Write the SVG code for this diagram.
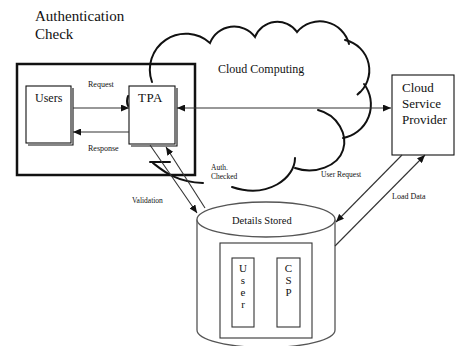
<svg xmlns="http://www.w3.org/2000/svg" width="455" height="346" viewBox="0 0 455 346" font-family="'Liberation Serif', 'DejaVu Serif', serif">
  <defs>
    <marker id="arrow" markerUnits="userSpaceOnUse" markerWidth="8" markerHeight="7" refX="8" refY="3.5" orient="auto-start-reverse">
      <path d="M0,0 L8,3.5 L0,7 z" fill="#111"/>
    </marker>
    <style>
      text { font-family: 'Liberation Serif', 'DejaVu Serif', serif; fill: #111; }
      .frame { fill: none; stroke: #111; stroke-width: 2.5; }
      .box { fill: #fff; stroke: #111; stroke-width: 1.1; }
      .shadow { fill: none; stroke: #111; stroke-width: 1.1; }
      .cloud { fill: none; stroke: #111; stroke-width: 2; stroke-linecap: round; }
      .store { fill: #fff; stroke: #555; stroke-width: 1.3; }
      .inner { fill: none; stroke: #333; stroke-width: 1.1; }
      .conn { fill: none; stroke: #333; stroke-width: 1.1; marker-end: url(#arrow); }
      .both { marker-start: url(#arrow); }
      .small { font-size: 7.5px; }
    </style>
  </defs>

  <!-- title of the authentication frame -->
  <g id="title">
    <text x="35" y="21" font-size="15">Authentication</text>
    <text x="35" y="39" font-size="15">Check</text>
  </g>

  <!-- authentication frame -->
  <g id="auth-frame">
    <rect class="frame" x="17" y="64" width="178" height="111"/>
  </g>

  <!-- cloud outline (scalloped arcs) -->
  <g id="cloud">
    <path class="cloud" d="M152,82 A36,36 0 0 1 210,43 A26,26 0 0 1 255,37 A24,24 0 0 1 297,32 A30,30 0 0 1 349,44"/>
    <path class="cloud" d="M345,40 A31,31 0 0 1 357,95 L360,92"/>
    <path class="cloud" d="M364,84 A34,34 0 0 1 343,138"/>
    <path class="cloud" d="M318,110 C338,115 348,135 343,150 C338,166 315,175 295,168"/>
    <path class="cloud" d="M295,158 C295,178 268,199 232,187"/>
    <path class="cloud" d="M150,162 L170,162"/>
    <path class="cloud" d="M153,163 C162,170 175,182 203,183"/>
    <path class="cloud" d="M128,96 Q126,101 128,106"/>
    <text x="218" y="73" font-size="12">Cloud Computing</text>
  </g>

  <!-- users node -->
  <g id="users">
    <polyline class="shadow" points="73,88 73,145 28,145"/>
    <rect class="box" x="26" y="86" width="45" height="57"/>
    <text x="35" y="102" font-size="12">Users</text>
  </g>

  <!-- third party auditor node -->
  <g id="tpa">
    <polyline class="shadow" points="177,88 177,146 131,146"/>
    <rect class="box" x="129" y="86" width="46" height="58"/>
    <text x="138" y="102" font-size="13" letter-spacing="0.5">TPA</text>
  </g>

  <!-- cloud service provider node -->
  <g id="csp">
    <rect class="box" x="392" y="75" width="62" height="80"/>
    <text x="402" y="92" font-size="13">Cloud</text>
    <text x="402" y="108" font-size="13">Service</text>
    <text x="402" y="124" font-size="13">Provider</text>
  </g>

  <!-- storage cylinder -->
  <g id="details-stored">
    <path class="store" d="M197,219.5 L197,330 A69,17.5 0 0 0 335,330 L335,219.5"/>
    <ellipse class="store" cx="266" cy="219.5" rx="69" ry="17.5"/>
    <text x="232" y="224" font-size="10.5">Details Stored</text>
    <rect class="inner" x="220" y="243" width="92" height="95"/>
    <g id="store-user">
      <rect class="inner" x="232" y="258" width="22" height="69"/>
      <g font-size="11" text-anchor="middle">
        <text x="243" y="272">U</text>
        <text x="243" y="284">s</text>
        <text x="243" y="296">e</text>
        <text x="243" y="308">r</text>
      </g>
    </g>
    <g id="store-csp">
      <rect class="inner" x="277" y="258" width="23" height="69"/>
      <g font-size="11" text-anchor="middle">
        <text x="288.5" y="272">C</text>
        <text x="288.5" y="284">S</text>
        <text x="288.5" y="296">P</text>
      </g>
    </g>
  </g>

  <!-- connectors -->
  <g id="connectors">
    <line class="conn" x1="73" y1="108" x2="129" y2="108"/>
    <line class="conn" x1="129" y1="132" x2="73" y2="132"/>
    <line class="conn both" x1="177" y1="108" x2="391" y2="108"/>
    <line class="conn" x1="150" y1="145" x2="197" y2="213"/>
    <line class="conn" x1="205" y1="208" x2="166" y2="147"/>
    <line class="conn" x1="402" y1="155" x2="336" y2="222"/>
    <line class="conn" x1="335" y1="246" x2="425" y2="155"/>
    <text x="88" y="87" font-size="8">Request</text>
    <text x="88" y="151" font-size="8">Response</text>
    <text class="small" x="211" y="170">Auth.</text>
    <text class="small" x="211" y="179">Checked</text>
    <text class="small" x="132" y="203">Validation</text>
    <text class="small" x="321" y="177">User Request</text>
    <text x="392" y="199" font-size="8">Load Data</text>
  </g>
</svg>
